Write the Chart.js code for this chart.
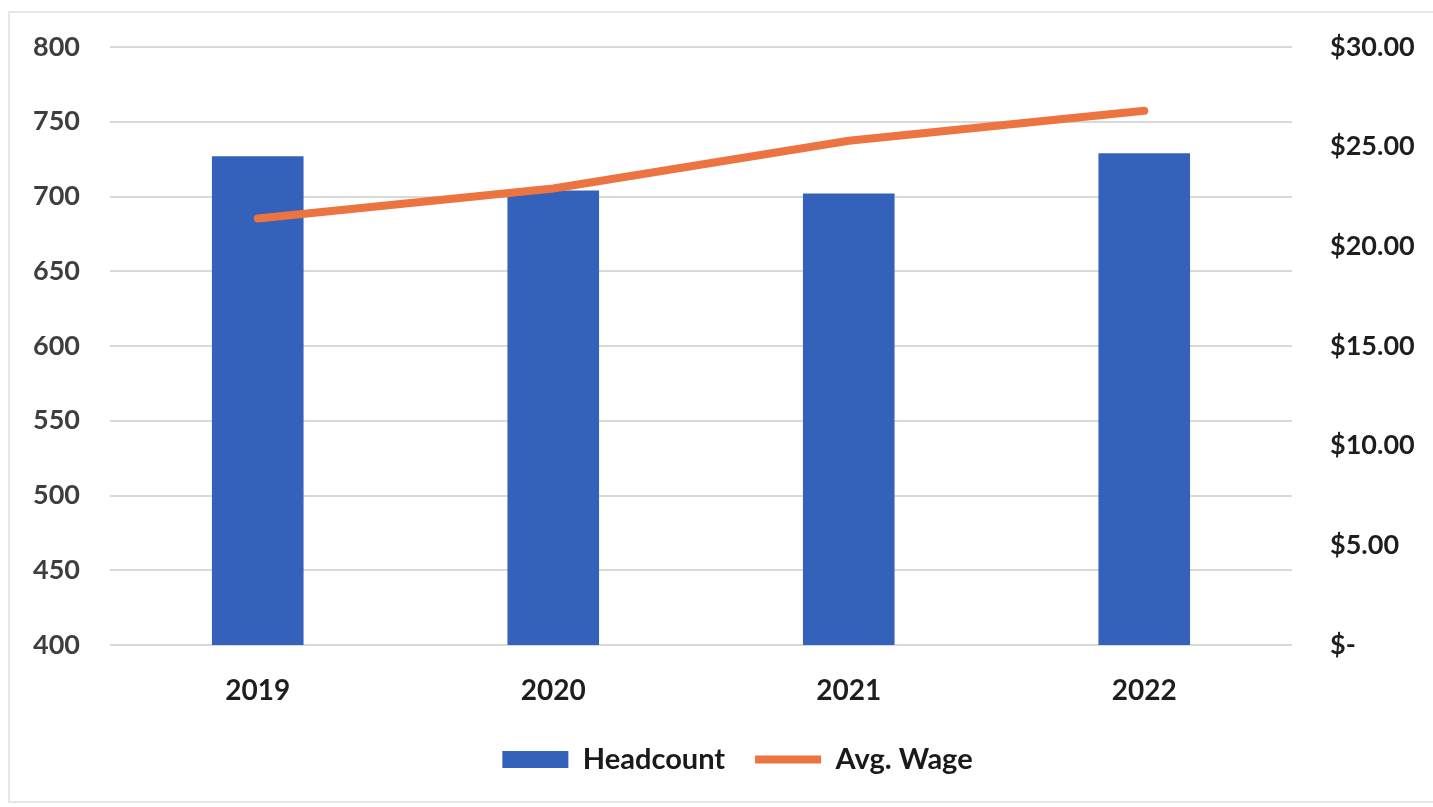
<!DOCTYPE html>
<html>
<head>
<meta charset="utf-8">
<script src="https://cdn.jsdelivr.net/npm/chart.js@4/dist/chart.umd.min.js"></script>
<style>
  html, body { margin: 0; padding: 0; background: #fff; }
  #wrap { position: relative; width: 1433px; height: 807px; }
  #frame { position: absolute; left: 8px; top: 11px; width: 1440px; height: 792px; border: 2px solid #e6e6e6; box-sizing: border-box; }
  canvas { position: absolute; left: 0; top: 0; }
</style>
</head>
<body>
<div id="wrap">
  <div id="frame"></div>
  <canvas id="chart" width="1433" height="807"></canvas>
</div>
<script>
// chart data
let years = ['2019', '2020', '2021', '2022'];
let headcount = [727, 704, 702, 729];
let avgWage = [21.4, 22.9, 25.3, 26.8];
let headTicks = [400, 450, 500, 550, 600, 650, 700, 750, 800];
let wageTicks = ['$-', '$5.00', '$10.00', '$15.00', '$20.00', '$25.00', '$30.00'];

let fontName = 'Lato, "Open Sans", sans-serif';

// legend sits a bit right of centre in the original
let legendShift = {
    id: 'legendShift',
    afterLayout: function(chart){
        chart.legend.left += 21;
        chart.legend.right += 21;
    }
};

let myChart = new Chart(document.getElementById('chart'), {
    data: {
        labels: years,
        datasets: [
        {
            type: 'bar',
            label: 'Headcount',
            data: headcount,
            yAxisID: 'y',
            backgroundColor: '#3461ba',
            borderWidth: 0,
            categoryPercentage: 1,
            barPercentage: 0.31,
            pointStyle: 'rect',
            order: 2,
        },
        {
            type: 'line',
            label: 'Avg. Wage',
            data: avgWage,
            yAxisID: 'y2',
            borderColor: '#ec7440',
            backgroundColor: '#ec7440',
            borderWidth: 8,
            borderCapStyle: 'round',
            pointRadius: 0,
            tension: 0,
            pointStyle: 'line',
            order: 1,
        }
        ]
    },
    plugins: [legendShift],
    options: {
        responsive: false,
        animation: false,
        layout: {
            padding: { top: 47, bottom: 23, left: 0, right: 0 },
        },
        scales: {
            x: {
                grid: { display: false },
                border: { display: false },
                ticks: {
                    color: '#1e1e1e',
                    padding: 21,
                    font: { family: fontName, size: 28, weight: 'bold' },
                },
                afterFit: function(scale){ scale.height = 70; },
            },
            y: {
                position: 'left',
                min: 400,
                max: 800,
                afterBuildTicks: function(scale){
                    scale.ticks = headTicks.map(v => ({ value: v }));
                },
                grid: { color: '#d9d9d9', lineWidth: 2, drawTicks: true, tickLength: 28, tickColor: 'rgba(0,0,0,0)' },
                border: { display: false },
                ticks: {
                    color: '#3e3e3e',
                    padding: 2,
                    font: { family: fontName, size: 27, weight: 'bold' },
                },
                afterFit: function(scale){ scale.width = 110; },
            },
            y2: {
                position: 'right',
                min: 0,
                max: 30,
                ticks: {
                    stepSize: 5,
                    color: '#1e1e1e',
                    padding: 2,
                    font: { family: fontName, size: 27, weight: 'bold' },
                    callback: function(value, index){ return wageTicks[index]; },
                },
                grid: { display: false, drawTicks: true, tickLength: 36 },
                border: { display: false },
                afterFit: function(scale){ scale.width = 141; },
            },
        },
        plugins: {
            tooltip: { enabled: false },
            legend: {
                position: 'bottom',
                labels: {
                    usePointStyle: true,
                    pointStyleWidth: 66,
                    boxHeight: 17,
                    padding: 30,
                    color: '#1a1a1a',
                    font: { family: fontName, size: 29, weight: 'bold' },
                    sort: function(a, b){ return a.datasetIndex - b.datasetIndex; },
                },
            },
        },
    },
});
</script>
</body>
</html>
